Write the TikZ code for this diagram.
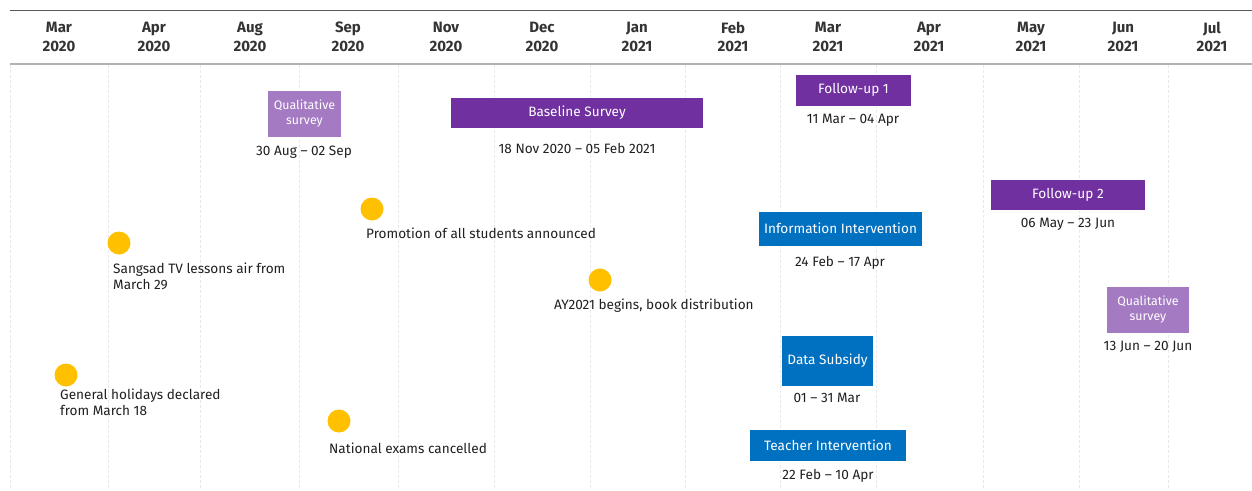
\documentclass[tikz,border=0pt]{standalone}
\usepackage{fontspec}
\setmainfont{Fira Sans}
\begin{document}
\begin{tikzpicture}[x=1pt,y=-1pt,
  grid/.style={draw=black!9,line width=0.8pt,dash pattern=on 3pt off 2pt},
  hdr/.style={font=\fontsize{15}{18.5}\selectfont\bfseries,text=black!80,align=center},
  bar/.style={inner sep=0pt,text=white,font=\fontsize{13.6}{15}\selectfont,align=center,draw=white,line width=0.6pt},
  dark/.style={bar,fill=ptdark},
  light/.style={bar,fill=ptlight,font=\fontsize{12.4}{15}\selectfont},
  blue/.style={bar,fill=ptblue},
  date/.style={font=\fontsize{13.6}{15}\selectfont,text=black!88,inner sep=0pt},
  ev/.style={circle,fill=ptyellow,minimum size=23pt,inner sep=0pt},
  evtext/.style={font=\fontsize{13.6}{16}\selectfont,text=black!88,inner sep=0pt,align=left,anchor=north west}]
\definecolor{ptdark}{HTML}{7030A0}
\definecolor{ptlight}{HTML}{A47AC2}
\definecolor{ptblue}{HTML}{0070C0}
\definecolor{ptyellow}{HTML}{FFC000}
\useasboundingbox (0,0) rectangle (1252,490);
% grid
\foreach \gx in {10,108,200,299,398,494,590,685,780,876,983,1079,1168}
  \draw[grid] (\gx,65) -- (\gx,490);
\draw[black!65,line width=1pt] (10,10) -- (1252,10);
\draw[black!30,line width=2pt] (10,64) -- (1252,64);
% headers
\foreach \hx/\m/\yr [count=\i] in {59/Mar/2020,154/Apr/2020,250/Aug/2020,348/Sep/2020,446/Nov/2020,542/Dec/2020,637/Jan/2021,733/Feb/2021,828/Mar/2021,929/Apr/2021,1031/May/2021,1123/Jun/2021,1212/Jul/2021}
  \node[hdr] (h\i) at (\hx,37) {\m\\\yr};
% bars
\node[light,minimum width=74pt,minimum height=47pt] (qs1) at (304.5,113.5) {Qualitative\\survey};
\node[date] (qs1d) at (304,152) {30 Aug – 02 Sep};
\node[dark,minimum width=253pt,minimum height=31pt] (base) at (577,112.5) {Baseline Survey};
\node[date] (based) at (577,148) {18 Nov 2020 – 05 Feb 2021};
\node[dark,minimum width=116pt,minimum height=32pt] (fu1) at (853.5,90) {Follow-up 1};
\node[date] (fu1d) at (853,120) {11 Mar – 04 Apr};
\node[dark,minimum width=155pt,minimum height=31pt] (fu2) at (1068,194.5) {Follow-up 2};
\node[date] (fu2d) at (1068,224) {06 May – 23 Jun};
\node[light,minimum width=83pt,minimum height=47pt] (qs2) at (1148,309.5) {Qualitative\\survey};
\node[date] (qs2d) at (1148,347) {13 Jun – 20 Jun};
\node[blue,minimum width=164pt,minimum height=35pt] (info) at (840.5,228.5) {Information Intervention};
\node[date] (infod) at (840,263) {24 Feb – 17 Apr};
\node[blue,minimum width=92pt,minimum height=51pt] (data) at (827.5,360.5) {Data Subsidy};
\node[date] (datad) at (827,398) {01 – 31 Mar};
\node[blue,minimum width=157pt,minimum height=32pt] (teach) at (828,445.5) {Teacher Intervention};
\node[date] (teachd) at (828,476) {22 Feb – 10 Apr};
% events
\node[ev] (e1) at (66,375) {};
\node[evtext] (e1t) at (60,388.5) {General holidays declared\\from March 18};
\node[ev] (e2) at (119,243) {};
\node[evtext] (e2t) at (113,262.5) {Sangsad TV lessons air from\\March 29};
\node[ev] (e3) at (372,209) {};
\node[evtext] (e3t) at (366,228) {Promotion of all students announced};
\node[ev] (e4) at (339,421) {};
\node[evtext] (e4t) at (329,443) {National exams cancelled};
\node[ev] (e5) at (600,280) {};
\node[evtext] (e5t) at (554,299) {AY2021 begins, book distribution};
\end{tikzpicture}
\end{document}
